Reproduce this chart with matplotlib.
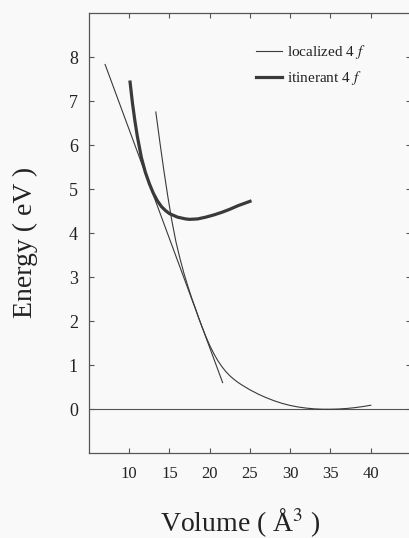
import matplotlib
matplotlib.use("Agg")
import matplotlib.pyplot as plt

plt.rcParams['font.family'] = ['Liberation Serif', 'DejaVu Serif']
plt.rcParams['mathtext.fontset'] = 'stix'

# Localized 4f curve (Volume in A^3, Energy in eV)
loc_V = [13.3, 13.8, 14.3, 14.8, 15.3, 15.8, 16.3, 16.8, 17.3, 17.8, 18.3, 18.6,
         19.0, 19.5, 20.0, 20.5, 21.0, 21.5, 22.0, 22.5, 23.0, 23.5, 24.0, 25.0,
         26.0, 27.0, 28.0, 29.0, 30.0, 31.0, 32.0, 33.0, 34.0, 35.0, 36.0, 37.0,
         38.0, 39.0, 40.0]
loc_E = [6.75, 6.07, 5.42, 4.82, 4.27, 3.80, 3.42, 3.08, 2.78, 2.50, 2.245, 2.08,
         1.885, 1.655, 1.445, 1.26, 1.10, 0.965, 0.85, 0.755, 0.675, 0.605, 0.545, 0.435,
         0.34, 0.258, 0.187, 0.127, 0.08, 0.045, 0.02, 0.003, -0.005, -0.005, 0.0,
         0.012, 0.03, 0.055, 0.085]

# Itinerant 4f curve
itin_V = [10.1, 10.4, 10.7, 11.0, 11.5, 12.0, 12.5, 13.0, 13.5, 14.0, 14.5, 15.0,
          16.0, 17.0, 17.5, 18.5, 19.5, 20.5, 21.5, 22.5, 23.5, 25.0]
itin_E = [7.43, 6.95, 6.55, 6.20, 5.72, 5.38, 5.12, 4.90, 4.73, 4.60, 4.51, 4.44,
          4.36, 4.32, 4.31, 4.32, 4.36, 4.41, 4.47, 4.54, 4.62, 4.72]

# Common tangent line
tan_V = [7.0, 21.6]
tan_E = [7.83, 0.60]

x_ticks = [10, 15, 20, 25, 30, 35, 40]
y_ticks = [0, 1, 2, 3, 4, 5, 6, 7, 8]

W, H = 410, 538
bg = '#f9f9f9'
fig = plt.figure(figsize=(W / 100, H / 100), dpi=100, facecolor=bg)
ax = fig.add_axes([89 / W, 85 / H, (411 - 89) / W, (453 - 13) / H])
ax.set_facecolor(bg)

c = '#3a3a3a'
ax.axhline(0, color='#555555', lw=0.8, zorder=1)
ax.plot(tan_V, tan_E, color=c, lw=0.8)
ax.plot(loc_V, loc_E, color=c, lw=0.8, label='localized 4 $f$')
ax.plot(itin_V, itin_E, color=c, lw=2.3, label='itinerant 4 $f$')

ax.set_xlim(5, 45)
ax.set_ylim(-1, 9)
ax.set_xticks(x_ticks)
ax.set_yticks(y_ticks)
ax.tick_params(direction='in', top=True, right=True, length=3.5, width=0.8,
               colors='#555555', labelcolor='#222222')
ax.tick_params(axis='x', labelsize=12, pad=9)
ax.tick_params(axis='y', labelsize=13, pad=8)
for s in ax.spines.values():
    s.set_color('#555555')
    s.set_linewidth(0.9)

fig.text(240 / W, 1 - 523 / H, 'Volume ( Å$^3$ )', fontsize=20, ha='center',
         va='center', color='#222222')
fig.text(25 / W, 1 - 242 / H, 'Energy ( eV )', fontsize=20, ha='center',
         va='center', rotation=90, color='#222222')

leg = ax.legend(loc='upper left', bbox_to_anchor=(0.5, 0.945), frameon=False,
                fontsize=11, handlelength=1.7, handletextpad=0.35,
                labelspacing=0.5, borderaxespad=0)
for t in leg.get_texts():
    t.set_color('#222222')

fig.savefig('out.png', dpi=100, facecolor=fig.get_facecolor())
